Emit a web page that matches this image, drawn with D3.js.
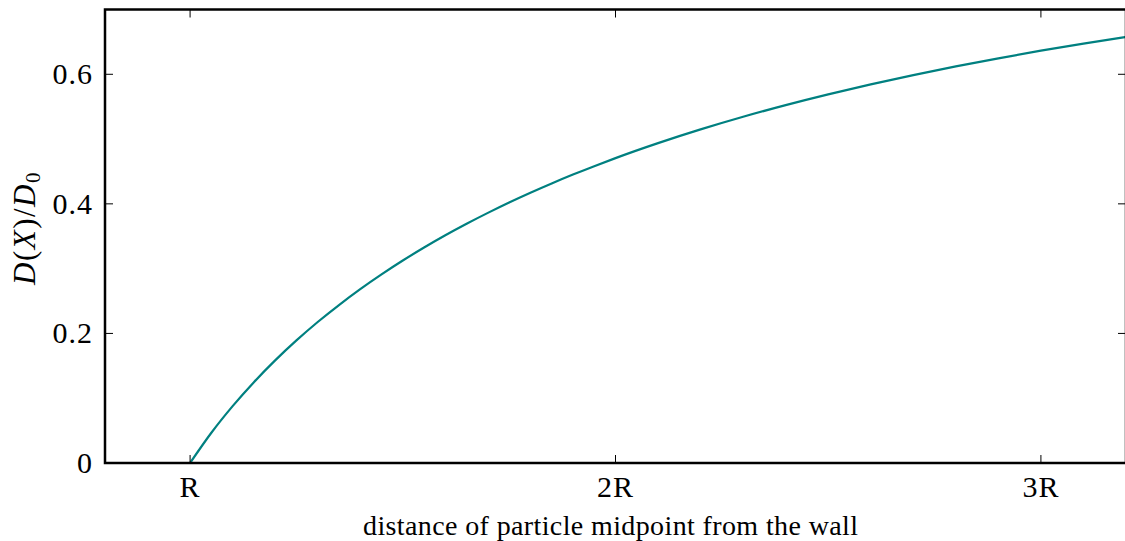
<!DOCTYPE html>
<html lang="en">
  <head>
    <meta charset="UTF-8">
    <script src="https://d3js.org/d3.v7.min.js"></script>
    <title>Wall-hindered diffusion</title>
    <style>
      body { margin: 0; background: #fff; }
      svg text { font-family: "Liberation Serif", serif; fill: #000; }
    </style>
  </head>
  <body>
    <div id="chart"></div>
    <script>
      // distance of particle midpoint from the wall, in units of R
      const distance = [1.0, 1.05, 1.1, 1.15, 1.2, 1.25, 1.3, 1.35, 1.4, 1.45, 1.5, 1.55, 1.6, 1.65, 1.7,
        1.75, 1.8, 1.85, 1.9, 1.95, 2.0, 2.1, 2.2, 2.3, 2.4, 2.5, 2.6, 2.7, 2.8, 2.9, 3.0, 3.1, 3.2];
      // D(X)/D0
      const ratio = [0, 0.0467, 0.0878, 0.1248, 0.1584, 0.1892, 0.2176, 0.2438, 0.2683, 0.2911, 0.3125,
        0.3326, 0.3515, 0.3693, 0.3861, 0.4021, 0.4172, 0.4315, 0.4452, 0.4582, 0.4706, 0.4937, 0.5149,
        0.5344, 0.5524, 0.5690, 0.5844, 0.5987, 0.6121, 0.6246, 0.6364, 0.6474, 0.6577];
      const xTicks = [1, 2, 3];
      const xTickLabels = ["R", "2R", "3R"];
      const yTicks = [0, 0.2, 0.4, 0.6];
      const yTickLabels = ["0", "0.2", "0.4", "0.6"];

      const width = 1125, height = 541;
      const margin = { top: 9.5, right: -1, bottom: 78, left: 105 };

      const svg = d3.select("#chart").append("svg")
        .attr("width", width)
        .attr("height", height);

      const x = d3.scaleLinear().domain([0.8, 3.2]).range([margin.left, width - margin.right]);
      const y = d3.scaleLinear().domain([0, 0.7]).range([height - margin.bottom, margin.top]);

      const points = distance.map((d, i) => [d, ratio[i]]);

      // curve
      const line = d3.line()
        .x(d => x(d[0]))
        .y(d => y(d[1]))
        .curve(d3.curveMonotoneX);

      svg.append("path")
        .datum(points)
        .attr("fill", "none")
        .attr("stroke", "#008080")
        .attr("stroke-width", 2.2)
        .attr("d", line);

      // inward ticks on all four sides
      const tickLen = 8;
      const g = svg.append("g").attr("stroke", "#000").attr("stroke-width", 1);
      xTicks.forEach(t => {
        g.append("line").attr("x1", x(t)).attr("x2", x(t)).attr("y1", y(0)).attr("y2", y(0) - tickLen);
        g.append("line").attr("x1", x(t)).attr("x2", x(t)).attr("y1", y(0.7)).attr("y2", y(0.7) + tickLen);
      });
      yTicks.forEach(t => {
        g.append("line").attr("x1", x(0.8)).attr("x2", x(0.8) + tickLen).attr("y1", y(t)).attr("y2", y(t));
        g.append("line").attr("x1", x(3.2)).attr("x2", x(3.2) - tickLen).attr("y1", y(t)).attr("y2", y(t));
      });

      // frame
      svg.append("rect")
        .attr("x", x(0.8)).attr("y", y(0.7))
        .attr("width", x(3.2) - x(0.8)).attr("height", y(0) - y(0.7))
        .attr("fill", "none").attr("stroke", "#000").attr("stroke-width", 2.5);

      // tick labels
      svg.selectAll(".xt").data(xTicks).enter().append("text")
        .attr("x", d => x(d)).attr("y", y(0) + 34)
        .attr("text-anchor", "middle").attr("font-size", 30)
        .attr("letter-spacing", 1)
        .text((d, i) => xTickLabels[i]);

      svg.selectAll(".yt").data(yTicks).enter().append("text")
        .attr("x", x(0.8) - 12).attr("y", d => y(d) + 10)
        .attr("text-anchor", "end").attr("font-size", 30)
        .attr("letter-spacing", 1)
        .text((d, i) => yTickLabels[i]);

      // axis titles
      svg.append("text")
        .attr("x", 363).attr("y", 535)
        .attr("font-size", 28)
        .attr("textLength", 495).attr("lengthAdjust", "spacing")
        .text("distance of particle midpoint from the wall");

      const yl = svg.append("text")
        .attr("transform", `translate(35, 228) rotate(-90)`)
        .attr("text-anchor", "middle").attr("font-size", 31).attr("font-style", "italic")
        .attr("letter-spacing", 1.5);
      yl.append("tspan").text("D");
      yl.append("tspan").attr("font-style", "normal").text("(");
      yl.append("tspan").text("X");
      yl.append("tspan").attr("font-style", "normal").text(")/");
      yl.append("tspan").text("D");
      yl.append("tspan").attr("font-style", "normal").attr("font-size", 21).attr("dy", 5).text("0");
    </script>
  </body>
</html>
